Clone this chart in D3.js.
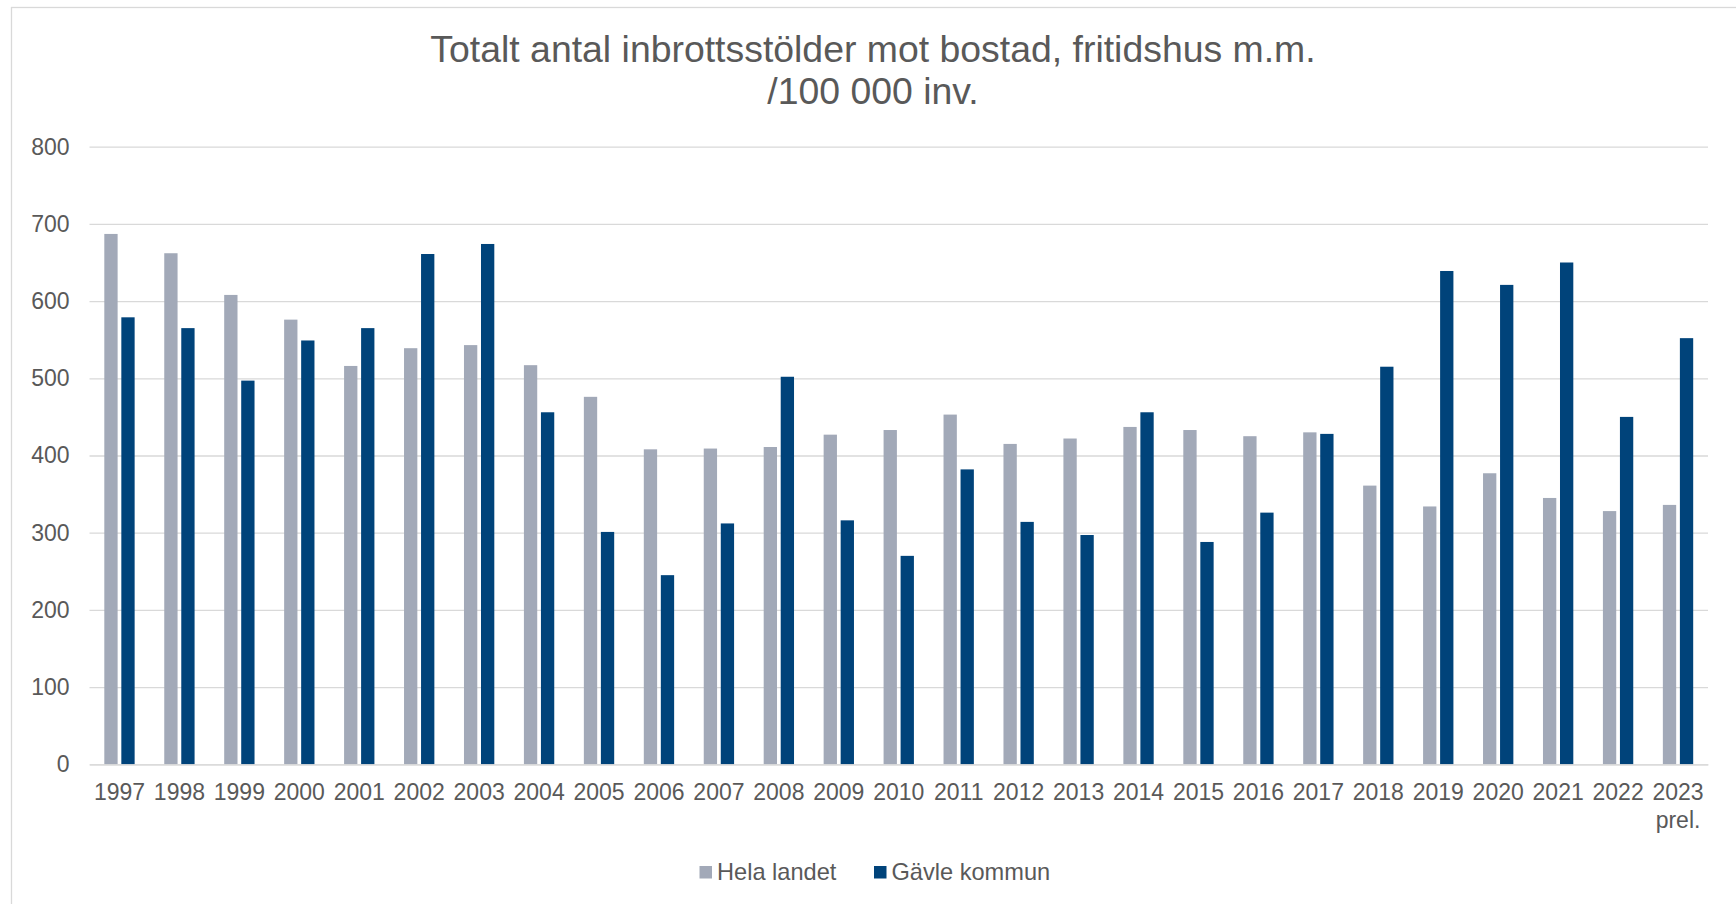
<!DOCTYPE html>
<html>
<head>
<meta charset="utf-8">
<script src="https://cdn.jsdelivr.net/npm/d3@7"></script>
<style>
body { margin: 0; background: #ffffff; }
svg { display: block; font-family: "Liberation Sans", Arial, sans-serif; }
</style>
</head>
<body>
<svg id="chart"></svg>
<script>
// years along the x axis, the last one is preliminary
var years = ["1997","1998","1999","2000","2001","2002","2003","2004","2005","2006",
             "2007","2008","2009","2010","2011","2012","2013","2014","2015","2016",
             "2017","2018","2019","2020","2021","2022","2023 prel."];

// burglaries per 100 000 inhabitants, whole country
var helaLandet = [687,662,608,576,516,539,543,517,476,408,
                  409,411,427,433,453,415,422,437,433,425,
                  430,361,334,377,345,328,336];

// burglaries per 100 000 inhabitants, Gävle
var gavleKommun = [579,565,497,549,565,661,674,456,301,245,
                   312,502,316,270,382,314,297,456,288,326,
                   428,515,639,621,650,450,552];

var seriesNames = ["Hela landet","Gävle kommun"];
var seriesColors = ["#A2A9B8","#00437A"];
var yTicks = [0,100,200,300,400,500,600,700,800];

var titleLines = ["Totalt antal inbrottsstölder mot bostad, fritidshus m.m.","/100 000 inv."];

var textColor = "#595959";
var gridColor = "#D9D9D9";

var initChart = function(target)
{
    //the size of the screen
    var screen = {width:1736, height:904};

    //where the plot area sits
    var plot = {left:89.5, right:1708, top:146.7, bottom:764.3};

    var svg = d3.select(target)
        .attr("width",screen.width)
        .attr("height",screen.height);

    // light frame around the chart
    svg.append("rect")
        .attr("x",11.5)
        .attr("y",7.5)
        .attr("width",screen.width)
        .attr("height",screen.height)
        .attr("fill","none")
        .attr("stroke",gridColor)
        .attr("stroke-width",1.3);

    // title on two lines
    svg.append("g")
        .selectAll("text")
        .data(titleLines)
        .enter()
        .append("text")
        .attr("x",873)
        .attr("y",function(d,i){ return 62 + i*42; })
        .attr("text-anchor","middle")
        .attr("font-size",37.4)
        .attr("fill",textColor)
        .text(function(d){ return d; });

    //scales
    var x0 = d3.scaleBand()
        .domain(years)
        .range([plot.left,plot.right])
        .padding(0);

    var x1 = d3.scaleBand()
        .domain(seriesNames)
        .range([0,x0.bandwidth()])
        .paddingInner(0.218)
        .paddingOuter(0.87);

    var yScale = d3.scaleLinear()
        .domain([0,800])
        .range([plot.bottom,plot.top]);

    // y axis with gridlines
    var yAxis = d3.axisLeft(yScale)
        .tickValues(yTicks)
        .tickSize(-(plot.right-plot.left))
        .tickPadding(20);

    var yg = svg.append("g")
        .attr("transform","translate("+plot.left+",0)")
        .call(yAxis);
    yg.select(".domain").remove();
    yg.selectAll("line")
        .attr("stroke",gridColor)
        .attr("stroke-width",1.3);
    yg.selectAll("text")
        .attr("font-size",23)
        .attr("font-family","Liberation Sans, Arial, sans-serif")
        .attr("fill",textColor);

    // bars, one group per year
    var groups = svg.append("g")
        .selectAll("g")
        .data(years)
        .enter()
        .append("g")
        .attr("transform",function(d){ return "translate("+x0(d)+",0)"; });

    groups.selectAll("rect")
        .data(function(d,i)
        {
            return [
                {name:seriesNames[0], value:helaLandet[i], color:seriesColors[0]},
                {name:seriesNames[1], value:gavleKommun[i], color:seriesColors[1]}
            ];
        })
        .enter()
        .append("rect")
        .attr("x",function(d){ return x1(d.name); })
        .attr("y",function(d){ return yScale(d.value); })
        .attr("width",x1.bandwidth())
        .attr("height",function(d){ return yScale(0)-yScale(d.value); })
        .attr("fill",function(d){ return d.color; });

    // x axis, labels may have two lines
    var xAxis = d3.axisBottom(x0)
        .tickSize(0)
        .tickSizeOuter(0);

    var xg = svg.append("g")
        .attr("transform","translate(0,"+plot.bottom+")")
        .call(xAxis);
    xg.select(".domain")
        .attr("stroke",gridColor)
        .attr("stroke-width",1.3);
    xg.selectAll("text").each(function(d)
    {
        var t = d3.select(this);
        var parts = d.split(" ");
        t.text(null)
            .attr("y",35.7)
            .attr("dy",null)
            .attr("font-size",23)
            .attr("font-family","Liberation Sans, Arial, sans-serif")
            .attr("fill",textColor);
        parts.forEach(function(p,i)
        {
            t.append("tspan")
                .attr("x",0)
                .attr("dy",i==0 ? 0 : 28)
                .text(p);
        });
    });

    // legend at the bottom
    var legendX = [699.5,874];
    var legend = svg.append("g")
        .selectAll("g")
        .data(seriesNames)
        .enter()
        .append("g")
        .attr("transform",function(d,i){ return "translate("+legendX[i]+",866)"; });
    legend.append("rect")
        .attr("width",12.5)
        .attr("height",12.5)
        .attr("fill",function(d,i){ return seriesColors[i]; });
    legend.append("text")
        .attr("x",17.5)
        .attr("y",14.3)
        .attr("font-size",23.6)
        .attr("fill",textColor)
        .text(function(d){ return d; });
}

initChart("#chart");
</script>
</body>
</html>
